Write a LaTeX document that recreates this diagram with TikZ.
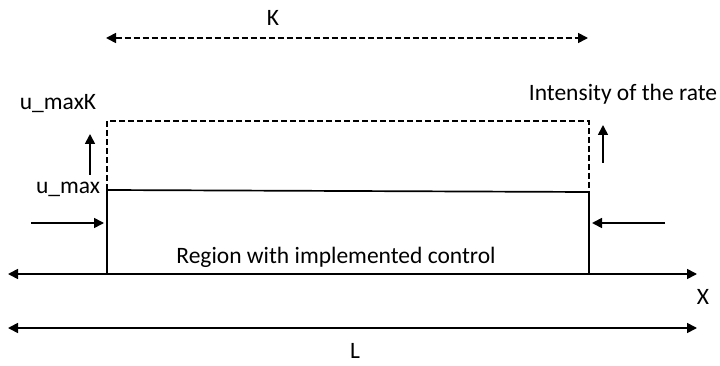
\documentclass[tikz,border=0pt]{standalone}
\usepackage{fontspec}
\setmainfont{Carlito}
\usetikzlibrary{arrows.meta}
\begin{document}
\begin{tikzpicture}[x=1pt,y=-1pt,
  line width=1.7pt,
  tip/.style={-{Triangle[length=10pt,width=10pt]}},
  dtip/.style={{Triangle[length=10pt,width=10pt]}-{Triangle[length=10pt,width=10pt]}},
  lbl/.style={inner sep=0pt,font=\fontsize{23.5}{26}\selectfont}]
\useasboundingbox (0,0) rectangle (720,366);
% labels
\node[lbl] (K) at (273,18) {K};
\node[lbl,anchor=east] (umK) at (97,104) {u\_maxK};
\node[lbl,anchor=east] (um) at (101,189) {u\_max};
\node[lbl,anchor=east] (int) at (718,94) {Intensity of the rate};
\node[lbl] (reg) at (336,257) {Region with implemented control};
\node[lbl] (X) at (703,297) {X};
\node[lbl] (L) at (355,351) {L};
% corners
\coordinate (kl) at (106,38);
\coordinate (kr) at (588,38);
\coordinate (tl) at (107,121);
\coordinate (tr) at (589,121);
\coordinate (ml) at (107,190);
\coordinate (mr) at (589,192);
\coordinate (bl) at (107,274);
\coordinate (br) at (589,274);
\coordinate (xl) at (8,274);
\coordinate (xr) at (697,274);
\coordinate (ll) at (8,328);
\coordinate (lr) at (697,328);
% K dashed arrow
\draw[dtip,dashed,dash pattern=on 6pt off 3pt] (kl) -- (kr);
% dashed rectangle
\draw[dashed,dash pattern=on 6pt off 3pt] (ml) -- (tl) -- (tr) -- (mr);
% solid region
\draw (bl) -- (ml) -- (mr) -- (br);
% axes
\draw[dtip] (xl) -- (xr);
\draw[dtip] (ll) -- (lr);
% arrows
\coordinate (a1s) at (90,175); \coordinate (a1e) at (90,134);
\draw[tip] (a1s) -- (a1e);
\coordinate (a2s) at (603,163); \coordinate (a2e) at (603,125);
\draw[tip] (a2s) -- (a2e);
\coordinate (a3s) at (31,223); \coordinate (a3e) at (104,223);
\draw[tip] (a3s) -- (a3e);
\coordinate (a4s) at (665,223); \coordinate (a4e) at (592,223);
\draw[tip] (a4s) -- (a4e);
\end{tikzpicture}
\end{document}
